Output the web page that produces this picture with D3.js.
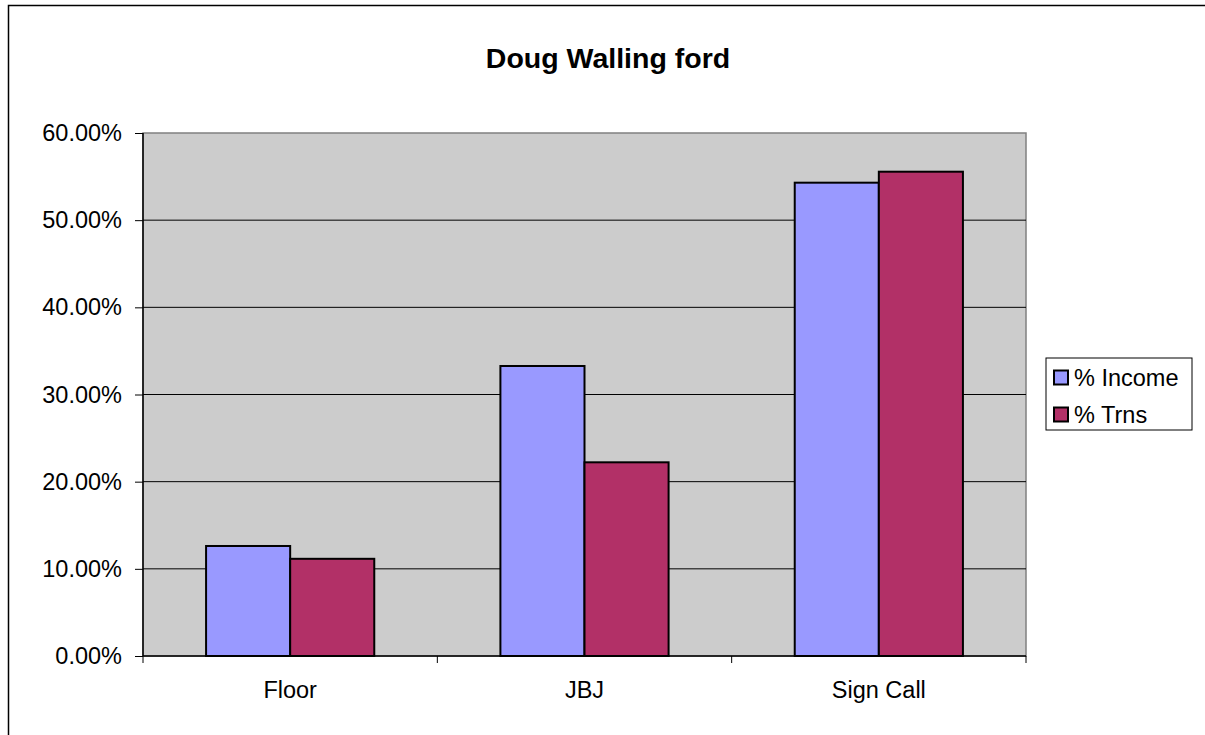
<!DOCTYPE html>
<html><head><meta charset="utf-8">
<script src="https://cdn.jsdelivr.net/npm/d3@7"></script>
<style>html,body{margin:0;padding:0;background:#fff;overflow:hidden;}svg{display:block;font-family:"Liberation Sans",Arial,sans-serif;}</style>
</head><body>
<svg id="c" width="1205" height="735"></svg>
<script>
const categories = ["Floor", "JBJ", "Sign Call"];
const seriesNames = ["% Income", "% Trns"];
const incomeValues = [0.1262, 0.3327, 0.5430];
const trnsValues = [0.1115, 0.2222, 0.5556];
const yTicks = [0, 0.1, 0.2, 0.3, 0.4, 0.5, 0.6];
const colors = ["#9999ff", "#b23067"];
const title = "Doug Walling ford";

const svg = d3.select("#c");
svg.append("rect").attr("x", 0).attr("y", 0).attr("width", 1205).attr("height", 735).attr("fill", "#fff");
// outer chart border (only top and left edges are visible)
svg.append("path").attr("d", "M8.5,740V5.5H1210").attr("fill", "none")
  .attr("stroke", "#000").attr("stroke-width", 1.5);

const L = 143, R = 1026, T = 133, B = 656;
const x = d3.scaleBand().domain(categories).range([L, R]);
const y = d3.scaleLinear().domain([0, 0.6]).range([B, T]);

svg.append("rect").attr("x", L).attr("y", T).attr("width", R - L).attr("height", B - T)
  .attr("fill", "#cccccc").attr("stroke", "#808080").attr("stroke-width", 1.5);

// gridlines
svg.append("g").selectAll("line").data(yTicks.filter(d => d > 0 && d < 0.6)).join("line")
  .attr("x1", L).attr("x2", R).attr("y1", d => y(d)).attr("y2", d => y(d))
  .attr("stroke", "#000").attr("stroke-width", 1);

// bars
const bw = x.bandwidth() / 3.5;
const data = categories.map((c, i) => ({ c, vals: [incomeValues[i], trnsValues[i]] }));
const g = svg.append("g");
data.forEach(d => {
  d.vals.forEach((v, j) => {
    const x0 = x(d.c) + x.bandwidth() / 2 - bw + j * bw;
    g.append("rect").attr("x", x0).attr("y", y(v)).attr("width", bw).attr("height", y(0) - y(v))
      .attr("fill", colors[j]).attr("stroke", "#000").attr("stroke-width", 2);
  });
});

// y axis
const ya = svg.append("g").attr("transform", `translate(${L},0)`)
  .call(d3.axisLeft(y).tickValues(yTicks).tickSize(8).tickPadding(13).tickFormat(d => (d * 100).toFixed(2) + "%"));
ya.select(".domain").attr("stroke", "#000").attr("stroke-width", 1.5).attr("d", `M0,${T}V${B}`);
ya.selectAll(".tick line").attr("stroke", "#000");
ya.selectAll("text").attr("font-size", 23.5).attr("fill", "#000").attr("font-family", "Liberation Sans, Arial, sans-serif");

// x axis
const xa = svg.append("g").attr("transform", `translate(0,${B})`);
xa.append("line").attr("x1", L).attr("x2", R).attr("y1", 0).attr("y2", 0).attr("stroke", "#000").attr("stroke-width", 1.5);
const xt = categories.map(c => x(c)).concat([R]);
xa.selectAll(".tk").data(xt).join("line").attr("class", "tk")
  .attr("x1", d => d).attr("x2", d => d).attr("y1", 0).attr("y2", 7).attr("stroke", "#000");
xa.selectAll("text").data(categories).join("text")
  .attr("x", d => x(d) + x.bandwidth() / 2).attr("y", 42).attr("text-anchor", "middle")
  .attr("font-size", 23.5).text(d => d);

// title
svg.append("text").attr("x", 608).attr("y", 68).attr("text-anchor", "middle")
  .attr("font-size", 28.5).attr("font-weight", "bold").text(title);

// legend
const lg = svg.append("g");
lg.append("rect").attr("x", 1046).attr("y", 358).attr("width", 146).attr("height", 72)
  .attr("fill", "#fff").attr("stroke", "#000").attr("stroke-width", 1);
seriesNames.forEach((s, i) => {
  const yy = 377.5 + i * 37;
  lg.append("rect").attr("x", 1054).attr("y", yy - 7).attr("width", 14).attr("height", 14)
    .attr("fill", colors[i]).attr("stroke", "#000").attr("stroke-width", 2);
  lg.append("text").attr("x", 1074).attr("y", yy + 8).attr("font-size", 23.5).text(s);
});
</script>
</body></html>
